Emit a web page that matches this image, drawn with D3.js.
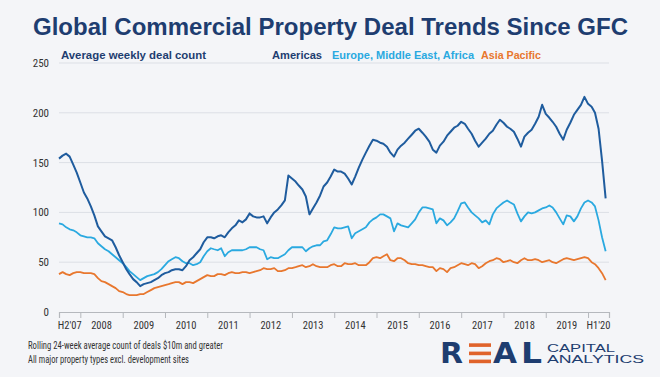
<!DOCTYPE html>
<html>
<head>
<meta charset="utf-8">
<script src="https://cdn.jsdelivr.net/npm/d3@7"></script>
<style>
  html, body { margin: 0; padding: 0; background: #f4f5f8; }
  svg { display: block; }
  .narrow { font-family: "Liberation Sans Narrow", "Roboto Condensed", "DejaVu Sans Condensed", "Liberation Sans", sans-serif; }
</style>
</head>
<body>
<svg id="chart"></svg>
<script>
// monthly averages, first value = Jul 2007
const startMonth = new Date(2007, 6, 1);
const americas = [154,157,159,156,148,140,130,120,114,106,97,86,81,76,74,72,65,57,50,43,38,33,30,26,28,29,30,32,34,37,39,40,42,43,43,42,46,52,55,59,63,70,75,75,74,76,77,75,80,84,87,92,90,93,99,96,95,95,96,89,95,100,103,107,112,137,134,131,127,123,116,98,104,110,117,126,130,136,143,141,141,139,134,128,136,145,153,160,167,173,172,170,169,166,160,156,163,167,170,174,178,182,184,180,176,171,163,160,167,171,177,181,185,187,191,189,184,179,172,166,170,174,179,182,188,193,190,186,184,181,174,166,176,180,183,189,196,208,199,195,191,186,179,173,183,190,198,203,208,216,209,206,200,184,152,114];
const emea = [89,88,85,83,82,80,77,76,75,75,74,69,66,63,61,58,55,52,49,45,41,38,35,32,34,36,37,38,40,43,47,51,53,55,54,51,49,49,47,48,50,56,61,64,63,62,64,56,60,62,62,62,62,63,65,65,65,63,62,53,55,54,54,56,58,62,65,65,65,65,61,64,66,67,67,71,72,78,85,84,84,85,86,74,79,81,83,85,90,93,95,98,98,96,94,81,89,87,86,85,89,93,100,105,105,104,103,89,94,92,87,90,94,101,109,110,105,100,97,94,90,92,88,98,104,107,110,112,110,108,99,91,96,100,99,100,102,104,105,107,105,100,94,88,97,96,91,96,104,110,112,110,106,92,75,61];
const asiaPacific = [38,40,38,37,39,40,40,39,39,39,38,34,31,30,28,26,24,21,20,18,17,17,17,18,18,20,22,24,25,26,27,28,29,30,30,28,30,30,29,31,33,35,37,36,36,38,38,37,39,40,39,39,40,40,39,40,41,42,44,43,43,44,41,41,42,44,44,45,46,47,45,46,48,46,45,45,45,47,48,46,46,49,48,48,49,47,47,47,50,54,55,54,56,58,52,51,54,54,52,49,48,48,47,47,46,45,45,41,44,43,40,44,45,47,49,48,47,49,48,44,46,49,51,52,54,53,50,51,52,50,49,52,54,52,52,53,52,50,51,52,50,49,51,53,54,53,52,53,54,55,54,50,48,44,39,32];

const seriesNames = ["Americas", "Europe, Middle East, Africa", "Asia Pacific"];
const yTicks = [0, 50, 100, 150, 200, 250];
const xLabels = ["H2'07","2008","2009","2010","2011","2012","2013","2014","2015","2016","2017","2018","2019","H1'20"];
const footNotes = ["Rolling 24-week average count of deals $10m and greater", "All major property types excl. development sites"];

const width = 660, height = 377;
const colors = {americas: "#1f5c9e", emea: "#2aa9e0", asia: "#e8772e", navy: "#1e3d70", grid: "#dcdfe5"};

const svg = d3.select("#chart").attr("width", width).attr("height", height);
svg.append("rect").attr("width", width).attr("height", height).attr("fill", "#f4f5f8");

const x = d3.scaleTime()
    .domain([startMonth, new Date(2020, 5, 30)])
    .range([59, 609]);
const y = d3.scaleLinear().domain([0, 250]).range([312, 63]);

// boundaries between the label cells
const xTickDates = [startMonth].concat(d3.range(2008, 2021).map(yr => new Date(yr, 0, 1)), [new Date(2020, 5, 30)]);

// title
svg.append("text")
    .attr("x", 33).attr("y", 35)
    .attr("textLength", 595).attr("lengthAdjust", "spacingAndGlyphs")
    .style("font-family", "'Liberation Sans', Arial, sans-serif")
    .style("font-weight", "bold").style("font-size", "24px")
    .attr("fill", colors.navy)
    .text("Global Commercial Property Deal Trends Since GFC");

// gridlines
svg.append("g")
    .selectAll("line")
    .data(yTicks.filter(d => d > 0))
    .join("line")
    .attr("x1", 59).attr("x2", 609)
    .attr("y1", d => y(d)).attr("y2", d => y(d))
    .attr("stroke", colors.grid).attr("stroke-width", 1);

// y axis labels
svg.append("g")
    .attr("transform", "translate(59,0)")
    .call(d3.axisLeft(y).tickValues(yTicks).tickSize(0).tickPadding(10))
    .call(g => g.select(".domain").remove())
    .call(g => g.selectAll("text")
        .attr("class", "narrow")
        .style("font-size", "11px")
        .attr("fill", "#333"));

// x axis
const xAxis = svg.append("g").attr("transform", `translate(0,${y(0)})`);
xAxis.call(d3.axisBottom(x).tickValues(xTickDates).tickSize(6).tickFormat(""))
    .call(g => g.select(".domain").attr("stroke", "#b5b8bd").attr("stroke-width", 1.2))
    .call(g => g.selectAll(".tick line").attr("stroke", "#b5b8bd"));
xAxis.selectAll(".xlab")
    .data(xLabels)
    .join("text")
    .attr("class", "narrow xlab")
    .attr("x", (d, i) => (x(xTickDates[i]) + x(xTickDates[i + 1])) / 2)
    .attr("y", 17)
    .attr("text-anchor", "middle")
    .style("font-size", "10.5px")
    .attr("fill", "#333")
    .text(d => d);

// lines
const line = d3.line()
    .x((d, i) => x(d3.timeMonth.offset(startMonth, i)))
    .y(d => y(d));

const series = [
    {key: "asia", values: asiaPacific, color: colors.asia, w: 1.8},
    {key: "emea", values: emea, color: colors.emea, w: 1.8},
    {key: "americas", values: americas, color: colors.americas, w: 2}
];
svg.append("g")
    .attr("fill", "none")
    .attr("stroke-linejoin", "round")
    .selectAll("path")
    .data(series)
    .join("path")
    .attr("stroke", d => d.color)
    .attr("stroke-width", d => d.w)
    .attr("d", d => line(d.values));

// subtitle + legend
const head = svg.append("g")
    .style("font-family", "'Liberation Sans', Arial, sans-serif")
    .style("font-weight", "bold").style("font-size", "11px");
head.append("text").attr("x", 61).attr("y", 59)
    .attr("textLength", 145).attr("lengthAdjust", "spacingAndGlyphs")
    .attr("fill", colors.navy).text("Average weekly deal count");
const legendPos = [[272, 50, colors.navy], [332, 142, colors.emea], [481, 60, colors.asia]];
head.selectAll(".leg")
    .data(seriesNames)
    .join("text")
    .attr("class", "leg")
    .attr("x", (d, i) => legendPos[i][0]).attr("y", 59)
    .attr("textLength", (d, i) => legendPos[i][1]).attr("lengthAdjust", "spacingAndGlyphs")
    .attr("fill", (d, i) => legendPos[i][2])
    .text(d => d);

// footnotes
svg.append("g")
    .selectAll("text")
    .data(footNotes)
    .join("text")
    .attr("class", "narrow")
    .attr("x", 28).attr("y", (d, i) => 349 + i * 13.5)
    .attr("textLength", (d, i) => i === 0 ? 195 : 161).attr("lengthAdjust", "spacingAndGlyphs")
    .style("font-size", "10px")
    .attr("fill", "#333")
    .text(d => d);

// logo
const logo = svg.append("g");
const logoFont = "'DejaVu Sans', Verdana, sans-serif";
[["R", 440, 23], ["A", 493, 24], ["L", 521, 21]].forEach(([ch, lx, lw]) => {
    logo.append("text").attr("x", lx).attr("y", 363.3)
        .attr("textLength", lw).attr("lengthAdjust", "spacingAndGlyphs")
        .style("font-family", logoFont).style("font-weight", "bold").style("font-size", "27.5px")
        .attr("fill", colors.navy).text(ch);
});
[343.3, 351.6, 359.6].forEach(by => {
    logo.append("rect").attr("x", 469).attr("y", by).attr("width", 22).attr("height", 3.6)
        .attr("fill", "#e0632b");
});
const logoWords = logo.append("text")
    .style("font-family", "'Liberation Sans', Arial, sans-serif").style("font-size", "11.5px")
    .attr("fill", colors.navy);
[["CAPITAL", 352, 68], ["ANALYTICS", 363.3, 97]].forEach(([t, ty, tw]) => {
    logoWords.append("tspan").attr("x", 547).attr("y", ty)
        .attr("textLength", tw).attr("lengthAdjust", "spacingAndGlyphs")
        .text(t);
});
</script>
</body>
</html>
